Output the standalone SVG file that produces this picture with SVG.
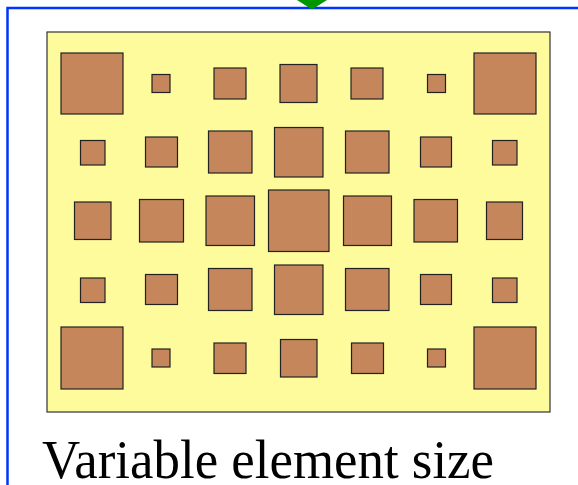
<svg xmlns="http://www.w3.org/2000/svg" width="578" height="485" viewBox="0 0 578 485">
<style>
.sq{fill:#c4865a;stroke:#222;stroke-width:1.2}
.panel{fill:#fefb9c;stroke:#333;stroke-width:1.2}
.frame{fill:#fff;stroke:#0033ff;stroke-width:2.5}
.lbl{font-family:"Liberation Serif","Times New Roman",serif;font-size:55px;fill:#000}
</style>
<rect width="578" height="485" fill="#fff"/>
<g id="container">
<rect class="frame" x="7.5" y="8" width="600" height="500"/>
</g>
<g id="connectors">
<polygon points="297,0 327,0 312,9.5" fill="#009600"/>
</g>
<g id="panel">
<rect class="panel" x="47" y="32" width="503" height="380"/>
</g>
<g id="elements">
<!-- row 1 -->
<rect class="sq" x="61" y="53" width="62" height="61"/>
<rect class="sq" x="152" y="74.5" width="18" height="18"/>
<rect class="sq" x="214" y="68" width="32" height="31"/>
<rect class="sq" x="280" y="64.5" width="37" height="38"/>
<rect class="sq" x="351" y="68" width="32" height="31"/>
<rect class="sq" x="427.5" y="74.5" width="18" height="18"/>
<rect class="sq" x="474" y="53" width="62" height="61"/>
<!-- row 2 -->
<rect class="sq" x="80.5" y="140.5" width="24.5" height="24.5"/>
<rect class="sq" x="145.5" y="137" width="32" height="30"/>
<rect class="sq" x="208.5" y="131" width="43.5" height="42"/>
<rect class="sq" x="274.5" y="127.5" width="48.5" height="49.5"/>
<rect class="sq" x="345.5" y="131" width="43.5" height="42"/>
<rect class="sq" x="420.5" y="137" width="31" height="30"/>
<rect class="sq" x="492.5" y="140.5" width="24.5" height="24.5"/>
<!-- row 3 -->
<rect class="sq" x="74.5" y="202" width="36.5" height="37.5"/>
<rect class="sq" x="139.5" y="199.5" width="44" height="42.5"/>
<rect class="sq" x="206" y="196" width="48.5" height="49.5"/>
<rect class="sq" x="268.5" y="190" width="60.5" height="61.5"/>
<rect class="sq" x="343.5" y="196" width="48" height="49.5"/>
<rect class="sq" x="414" y="199.5" width="43.5" height="42.5"/>
<rect class="sq" x="486.5" y="202" width="36" height="37.5"/>
<!-- row 4 -->
<rect class="sq" x="80.5" y="278" width="24.5" height="24.5"/>
<rect class="sq" x="145.5" y="274.5" width="32" height="30"/>
<rect class="sq" x="208.5" y="268.5" width="43.5" height="42"/>
<rect class="sq" x="274.5" y="265" width="48.5" height="49.5"/>
<rect class="sq" x="345.5" y="268.5" width="43.5" height="42"/>
<rect class="sq" x="420.5" y="274.5" width="31" height="30"/>
<rect class="sq" x="492.5" y="278" width="24.5" height="24.5"/>
<!-- row 5 -->
<rect class="sq" x="61" y="327" width="62" height="62"/>
<rect class="sq" x="152" y="349" width="18" height="18"/>
<rect class="sq" x="214" y="343" width="32" height="30.5"/>
<rect class="sq" x="280.5" y="339.5" width="36.5" height="37.5"/>
<rect class="sq" x="351.5" y="343" width="32" height="30.5"/>
<rect class="sq" x="427.5" y="349" width="18" height="18"/>
<rect class="sq" x="474" y="327" width="62" height="62"/>
</g>
<g id="caption">
<text class="lbl" x="42" y="478" textLength="452" lengthAdjust="spacingAndGlyphs">Variable element size</text>
</g>
</svg>
